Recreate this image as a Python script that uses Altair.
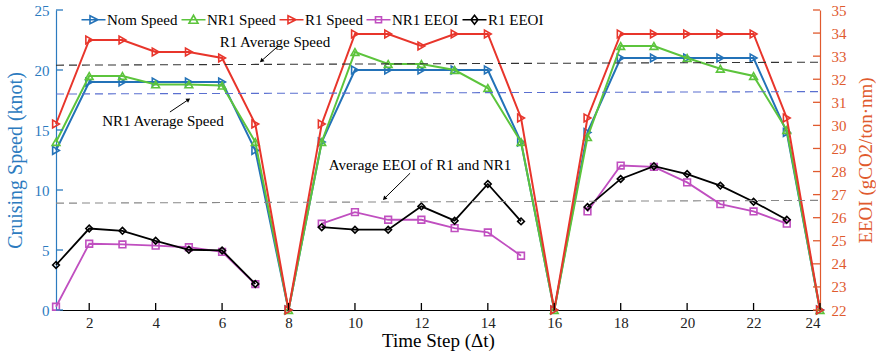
import math
import altair as alt
import pandas as pd

# ---------------- data ----------------
steps = list(range(1, 25))
nom_speed = [13.3, 19, 19, 19, 19, 19, 13.3, 0,
             14, 20, 20, 20, 20, 20, 14, 0,
             14.8, 21, 21, 21, 21, 21, 14.8, 0]
nr1_speed = [14, 19.5, 19.5, 18.8, 18.8, 18.7, 14, 0,
             14, 21.5, 20.5, 20.5, 20, 18.5, 14, 0,
             14.4, 22, 22, 21, 20.1, 19.5, 15, 0]
r1_speed = [15.5, 22.5, 22.5, 21.5, 21.5, 21, 15.5, 0,
            15.5, 23, 23, 22, 23, 23, 16, 0,
            16, 23, 23, 23, 23, 23, 16, 0]

eeoi_steps = [1, 2, 3, 4, 5, 6, 7, 9, 10, 11, 12, 13, 14, 15,
              17, 18, 19, 20, 21, 22, 23]
eeoi_segment = [1] * 7 + [2] * 7 + [3] * 7
nr1_eeoi = [22.14, 24.87, 24.84, 24.79, 24.72, 24.52, 23.12,
            25.74, 26.24, 25.91, 25.91, 25.55, 25.36, 24.35,
            26.27, 28.26, 28.2, 27.53, 26.59, 26.27, 25.74]
r1_eeoi = [23.95, 25.53, 25.43, 25.0, 24.61, 24.58, 23.13,
           25.59, 25.48, 25.48, 26.49, 25.87, 27.46, 25.84,
           26.46, 27.68, 28.23, 27.89, 27.39, 26.69, 25.91]

avg_x = [1, 24]
r1_avg_speed = [20.4, 20.65]
nr1_avg_speed = [18.0, 18.2]
avg_eeoi = [26.63, 26.75]

ann_text = ["R1 Average Speed", "NR1 Average Speed", "Average EEOI of R1 and NR1"]
ann_x = [7.59, 4.22, 11.96]
ann_y = [22.33, 15.75, 12.08]
arrow_x0 = [7.65, 4.43, 11.66]
arrow_y0 = [21.9, 16.5, 11.4]
arrow_x1 = [7.2, 4.97, 10.9]
arrow_y1 = [20.8, 17.5, 9.33]
arrow_angle = [228, 56, 225]

x_ticks = list(range(2, 25, 2))
left_ticks = [0, 5, 10, 15, 20, 25]
right_ticks = list(range(22, 36))

series_names = ["Nom Speed", "NR1 Speed", "R1 Speed", "NR1 EEOI", "R1 EEOI"]
series_colors = ["#2372b8", "#5cc43c", "#e8352b", "#c04fc0", "#000000"]
series_shapes = ["triangle-right", "triangle-up", "triangle-right", "square", "diamond"]
legend_paths = [
    "M-2.4,0L2.4,0M-0.7,-0.8L0.9,0L-0.7,0.8Z",
    "M-2.4,0L2.4,0M-0.9,0.7L0,-0.9L0.9,0.7Z",
    "M-2.4,0L2.4,0M-0.7,-0.8L0.9,0L-0.7,0.8Z",
    "M-2.4,0L2.4,0M-0.6,-0.6L0.6,-0.6L0.6,0.6L-0.6,0.6Z",
    "M-2.4,0L2.4,0M0,-0.9L0.7,0L0,0.9L-0.7,0Z",
]

FONT = "Liberation Serif"
LEFT_COLOR = "#2c7bbf"
RIGHT_COLOR = "#e05a2e"
PLOT_W, PLOT_H = 764, 300
X_DOM, YL_DOM, YR_DOM = [1, 24], [0, 25], [22, 35]
TICK_PX = 7
# tick length expressed in each scale's units
x_tick_len = TICK_PX * (X_DOM[1] - X_DOM[0]) / PLOT_W
yl_tick_len = TICK_PX * (YL_DOM[1] - YL_DOM[0]) / PLOT_H

speed_df = pd.DataFrame({
    "step": steps * 3,
    "value": nom_speed + nr1_speed + r1_speed,
    "series": ["Nom Speed"] * 24 + ["NR1 Speed"] * 24 + ["R1 Speed"] * 24,
})
eeoi_df = pd.DataFrame({
    "step": eeoi_steps * 2,
    "value": nr1_eeoi + r1_eeoi,
    "seg": eeoi_segment * 2,
    "series": ["NR1 EEOI"] * len(eeoi_steps) + ["R1 EEOI"] * len(eeoi_steps),
})
avg_df = pd.DataFrame({
    "step": avg_x * 3,
    "value": r1_avg_speed + nr1_avg_speed + avg_eeoi,
    "series": ["R1 avg"] * 2 + ["NR1 avg"] * 2 + ["EEOI avg"] * 2,
})
ann_df = pd.DataFrame({"text": ann_text, "x": ann_x, "y": ann_y})
arrow_df = pd.DataFrame({"x0": arrow_x0, "y0": arrow_y0, "x1": arrow_x1,
                         "y1": arrow_y1, "angle": arrow_angle})
# tick segments (both ends given as data, like the arrows)
xtick_df = pd.DataFrame({
    "xa": [float(v) for v in x_ticks], "xb": [float(v) for v in x_ticks],
    "ya": [float(YL_DOM[0])] * len(x_ticks), "yb": [YL_DOM[0] + yl_tick_len] * len(x_ticks),
})
ltick_df = pd.DataFrame({
    "xa": [float(X_DOM[0])] * len(left_ticks), "xb": [X_DOM[0] + x_tick_len] * len(left_ticks),
    "ya": [float(v) for v in left_ticks], "yb": [float(v) for v in left_ticks],
})
rtick_df = pd.DataFrame({
    "xa": [float(X_DOM[1])] * len(right_ticks), "xb": [X_DOM[1] - x_tick_len] * len(right_ticks),
    "ya": [float(v) for v in right_ticks], "yb": [float(v) for v in right_ticks],
})

x_scale = alt.Scale(domain=X_DOM, nice=False, zero=False)
yl_scale = alt.Scale(domain=YL_DOM, nice=False)
yr_scale = alt.Scale(domain=YR_DOM, nice=False, zero=False)

x_main_axis = alt.Axis(values=x_ticks, orient="bottom", ticks=False, domainColor="black",
                       domainWidth=1.2, labelColor="#222", labelFontSize=15, labelPadding=5,
                       title="Time Step (Δt)", titleFontSize=19, titleFontWeight="normal",
                       titleColor="black", titleBaseline="middle", titleY=30)
yl_main_axis = alt.Axis(values=left_ticks, orient="left", ticks=False, domainColor=LEFT_COLOR,
                        domainWidth=1.2, labelColor=LEFT_COLOR, labelFontSize=15, labelPadding=7,
                        title="Cruising Speed (knot)", titleFontSize=20, titleFontWeight="normal",
                        titleColor=LEFT_COLOR, titlePadding=9)
yr_main_axis = alt.Axis(values=right_ticks, orient="right", ticks=False, domainColor=RIGHT_COLOR,
                        domainWidth=1.2, labelColor=RIGHT_COLOR, labelFontSize=15, labelPadding=11,
                        title="EEOI (gCO2/ton·nm)", titleFontSize=19, titleFontWeight="normal",
                        titleColor=RIGHT_COLOR, titleAngle=270, titleX=45, titleY=150,
                        titleAlign="center", titleBaseline="middle")


def X(axis=None, field="step"):
    return alt.X(f"{field}:Q", scale=x_scale, axis=axis)


def YL(axis=None, field="value"):
    return alt.Y(f"{field}:Q", scale=yl_scale, axis=axis)


def YR(axis=None, field="value"):
    return alt.Y(f"{field}:Q", scale=yr_scale, axis=axis)


layers = []

# speed series (first layer carries the bottom and left axes)
for i, name in enumerate(series_names[:3]):
    base = alt.Chart(speed_df).transform_filter(alt.datum.series == name)
    if i == 0:
        line = base.mark_line(color=series_colors[i], strokeWidth=2).encode(
            x=X(x_main_axis), y=YL(yl_main_axis))
    else:
        line = base.mark_line(color=series_colors[i], strokeWidth=2).encode(x=X(), y=YL())
    pts = base.mark_point(shape=series_shapes[i], filled=False, size=60, strokeWidth=1.6,
                          color=series_colors[i], opacity=1).encode(x=X(), y=YL())
    layers += [line, pts]

# EEOI series
for j, name in enumerate(series_names[3:]):
    i = j + 3
    base = alt.Chart(eeoi_df).transform_filter(alt.datum.series == name)
    if j == 0:
        line = base.mark_line(color=series_colors[i], strokeWidth=1.8).encode(
            x=X(), y=YR(yr_main_axis), detail="seg:N")
    else:
        line = base.mark_line(color=series_colors[i], strokeWidth=1.8).encode(
            x=X(), y=YR(), detail="seg:N")
    pts = base.mark_point(shape=series_shapes[i], filled=False, size=45, strokeWidth=1.6,
                          color=series_colors[i], opacity=1).encode(x=X(), y=YR())
    layers += [line, pts]

# average dashed lines
avg_base = alt.Chart(avg_df)
layers.append(avg_base.transform_filter(alt.datum.series == "R1 avg").mark_line(
    color="#333333", strokeDash=[8, 5], strokeWidth=1.1).encode(x=X(), y=YL()))
layers.append(avg_base.transform_filter(alt.datum.series == "NR1 avg").mark_line(
    color="#5a6fd0", strokeDash=[8, 5], strokeWidth=1.1).encode(x=X(), y=YL()))
layers.append(avg_base.transform_filter(alt.datum.series == "EEOI avg").mark_line(
    color="#888888", strokeDash=[8, 5], strokeWidth=1.1).encode(x=X(), y=YR()))

# annotations
layers.append(alt.Chart(ann_df).mark_text(font=FONT, fontSize=15, color="black").encode(
    x=X(field="x"), y=YL(field="y"), text="text:N"))
layers.append(alt.Chart(arrow_df).mark_rule(color="black", strokeWidth=1).encode(
    x=X(field="x0"), y=YL(field="y0"), x2="x1:Q", y2="y1:Q"))
layers.append(alt.Chart(arrow_df).mark_point(shape="triangle", filled=True, size=22,
                                            color="black", opacity=1).encode(
    x=X(field="x1"), y=YL(field="y1"), angle=alt.Angle("angle:Q", scale=None)))

# inward-pointing tick marks (MATLAB style), drawn like the arrows: both ends from data
layers.append(alt.Chart(xtick_df).mark_rule(color="black", strokeWidth=1.3).encode(
    x=X(field="xa"), x2="xb:Q", y=YL(field="ya"), y2="yb:Q"))
layers.append(alt.Chart(ltick_df).mark_rule(color=LEFT_COLOR, strokeWidth=1.3).encode(
    x=X(field="xa"), x2="xb:Q", y=YL(field="ya"), y2="yb:Q"))
layers.append(alt.Chart(rtick_df).mark_rule(color=RIGHT_COLOR, strokeWidth=1.3).encode(
    x=X(field="xa"), x2="xb:Q", y=YR(field="ya"), y2="yb:Q"))

# legend layer (no marks drawn, only legend)
legend_def = alt.Legend(orient="none", legendX=30, legendY=2, direction="horizontal", title=None,
                        labelFont=FONT, labelFontSize=15, labelColor="black", symbolSize=100,
                        symbolStrokeWidth=1.6, labelOffset=6, columnPadding=0, padding=0)
legend_df = pd.DataFrame({"series": series_names, "step": [1] * 5, "value": [0] * 5})
layers.append(alt.Chart(legend_df).transform_filter("false").mark_point(
    filled=False, opacity=1).encode(
    x=X(), y=YL(),
    color=alt.Color("series:N", scale=alt.Scale(domain=series_names, range=series_colors),
                    legend=legend_def),
    shape=alt.Shape("series:N", scale=alt.Scale(domain=series_names, range=legend_paths),
                    legend=legend_def),
))

chart = alt.layer(*layers).resolve_scale(y="independent").resolve_axis(
    x="independent", y="independent"
).properties(
    width=PLOT_W, height=PLOT_H,
    autosize=alt.AutoSizeParams(type="none"),
    padding={"left": 56, "top": 10, "right": 56, "bottom": 47},
    background="white",
).configure_view(strokeWidth=0).configure_axis(
    grid=False, labelFont=FONT, titleFont=FONT
).configure_text(font=FONT)

chart.save("out.html", embed_options={"renderer": "svg", "actions": False})
